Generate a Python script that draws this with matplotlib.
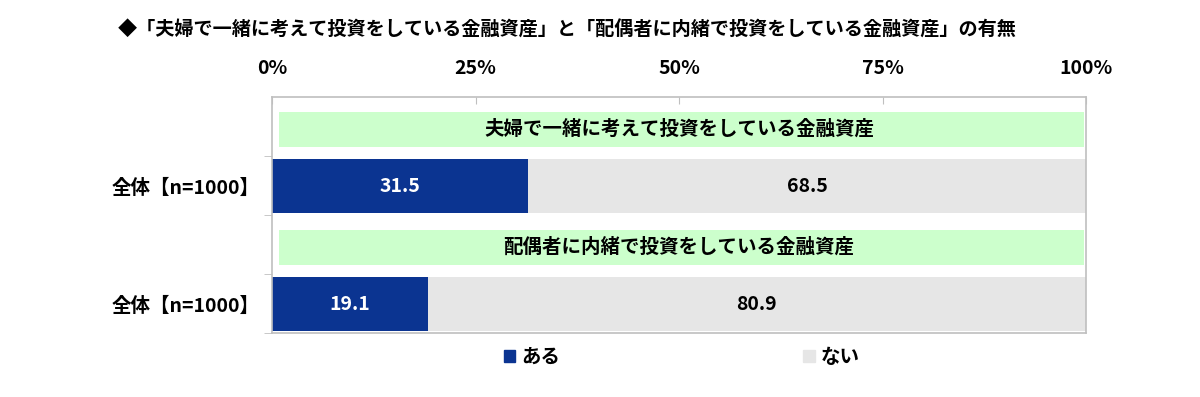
import matplotlib
matplotlib.use("Agg")
import matplotlib.pyplot as plt
from matplotlib.patches import Patch
import numpy as np

plt.rcParams['font.family'] = ['Noto Sans CJK JP', 'DejaVu Sans']

title = "◆「夫婦で一緒に考えて投資をしている金融資産」と「配偶者に内緒で投資をしている金融資産」の有無"
groups = ["夫婦で一緒に考えて投資をしている金融資産", "配偶者に内緒で投資をしている金融資産"]
row_labels = ["全体【n=1000】", "全体【n=1000】"]
aru = [31.5, 19.1]
nai = [68.5, 80.9]
legend_labels = ["ある", "ない"]
ticks = [0, 25, 50, 75, 100]

blue = "#0B3491"
gray = "#E6E6E6"
green = "#CCFFCC"
spine = "#BFBFBF"

fig = plt.figure(figsize=(12, 3.97), dpi=100)
ax = fig.add_axes([0.2267, 0.1612, 0.6783, 0.5945])

# each group takes two slots: header band then the stacked bar
band_y = np.arange(len(groups)) * 2 + 0.55
bar_y = np.arange(len(groups)) * 2 + 1.51

for i, g in enumerate(groups):
    ax.barh(band_y[i], 98.9, left=0.8, height=0.6, color=green, zorder=2)
    ax.text(50, band_y[i], g, ha='center', va='center', fontsize=14,
            fontweight='bold', color='black', zorder=3)

ax.barh(bar_y, aru, height=0.92, color=blue, zorder=2, label=legend_labels[0])
ax.barh(bar_y, nai, left=aru, height=0.92, color=gray, zorder=2, label=legend_labels[1])

for y, a, n in zip(bar_y, aru, nai):
    ax.text(a / 2, y, f"{a:.1f}", ha='center', va='center', fontsize=14,
            fontweight='bold', color='white', zorder=3)
    ax.text(a + n / 2, y, f"{n:.1f}", ha='center', va='center', fontsize=14,
            fontweight='bold', color='black', zorder=3)

ax.set_xlim(0, 100)
ax.set_ylim(len(groups) * 2, 0)

ax.xaxis.tick_top()
ax.set_xticks(ticks)
ax.set_xticklabels([f"{t}%" for t in ticks], fontsize=14, fontweight='bold')
ax.tick_params(axis='x', direction='in', length=5, color=spine, pad=14)

ax.set_yticks(bar_y)
ax.set_yticklabels(row_labels, fontsize=14, fontweight='bold')
ax.tick_params(axis='y', which='major', length=0, pad=9)
ax.set_yticks(np.arange(1, len(groups) * 2 + 1), minor=True)
ax.tick_params(axis='y', which='minor', direction='out', length=6, color=spine)

for s in ax.spines.values():
    s.set_color(spine)
    s.set_linewidth(1.2)

fig.text(0.098, 0.925, title, fontsize=13.8, fontweight='bold', ha='left', va='center')

handles = [Patch(color=blue), Patch(color=gray)]
fig.legend(handles, legend_labels, loc='center', bbox_to_anchor=(0.568, 0.1),
           ncol=2, frameon=False, handlelength=0.6, handleheight=0.6,
           handletextpad=0.3, columnspacing=12.5,
           prop={'size': 14, 'weight': 'bold'})

fig.savefig("out.png", dpi=100)
